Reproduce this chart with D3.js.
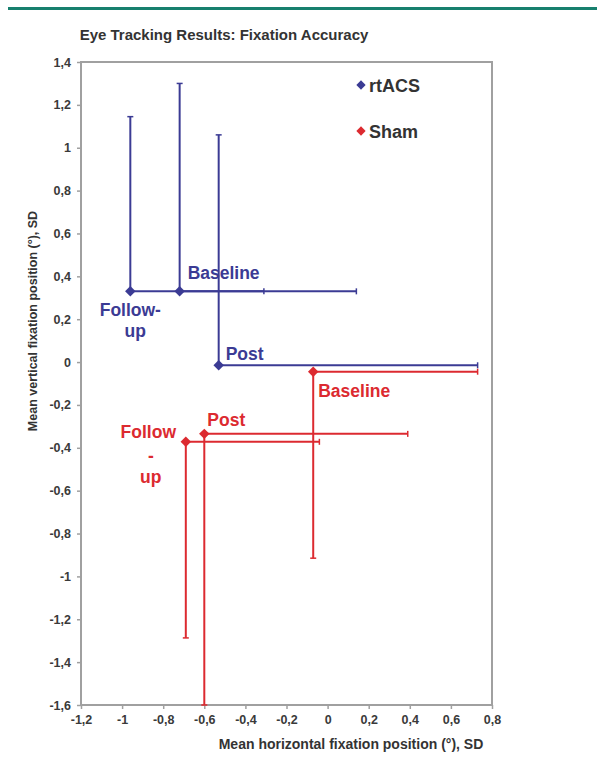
<!DOCTYPE html>
<html>
<head>
<meta charset="utf-8">
<script src="https://cdn.jsdelivr.net/npm/d3@7"></script>
<style>
  html, body { margin: 0; padding: 0; background: #ffffff; }
  svg { display: block; font-family: "Liberation Sans", Arial, sans-serif; }
</style>
</head>
<body>
<svg id="chart" width="597" height="774"></svg>
<script>
// ---- data ----
const groups = ["rtACS", "Sham"];
const sessions = ["Baseline", "Post", "Follow-up"];
// mean horizontal (x) and vertical (y) fixation positions
const rtacsX = [-0.72, -0.53, -0.96];
const rtacsY = [0.33, -0.015, 0.33];
const rtacsSdX = [0.86, 1.26, 0.65];
const rtacsSdY = [0.97, 1.075, 0.815];
const shamX = [-0.07, -0.60, -0.69];
const shamY = [-0.045, -0.335, -0.372];
const shamSdX = [0.80, 0.99, 0.65];
const shamSdY = [-0.87, -1.30, -0.915];
const xTicks = [-1.2, -1, -0.8, -0.6, -0.4, -0.2, 0, 0.2, 0.4, 0.6, 0.8];
const yTicks = [1.4, 1.2, 1, 0.8, 0.6, 0.4, 0.2, 0, -0.2, -0.4, -0.6, -0.8, -1, -1.2, -1.4, -1.6];

const blue = "#3b3b94";
const red = "#dc2a30";

const svg = d3.select("#chart");
const m = { left: 81, right: 492, top: 62, bottom: 705 };

const x = d3.scaleLinear().domain([-1.2, 0.8]).range([m.left, m.right]);
const y = d3.scaleLinear().domain([-1.6, 1.4]).range([m.bottom, m.top]);
const fmt = v => String(+v.toFixed(1)).replace(".", ",");

// top rule
svg.append("rect").attr("x", 8).attr("y", 7).attr("width", 589).attr("height", 3).attr("fill", "#17806e");

// title
svg.append("text").attr("x", 224).attr("y", 40).attr("text-anchor", "middle")
  .attr("font-size", 15).attr("font-weight", "bold").attr("fill", "#333")
  .text("Eye Tracking Results: Fixation Accuracy");

// plot frame
svg.append("rect").attr("x", m.left).attr("y", m.top)
  .attr("width", m.right - m.left).attr("height", m.bottom - m.top)
  .attr("fill", "none").attr("stroke", "#a0a0a0").attr("stroke-width", 2);

// axes
const xAxis = svg.append("g").attr("transform", `translate(0,${m.bottom})`)
  .call(d3.axisBottom(x).tickValues(xTicks).tickFormat(fmt).tickSize(4).tickPadding(6));
const yAxis = svg.append("g").attr("transform", `translate(${m.left},0)`)
  .call(d3.axisLeft(y).tickValues(yTicks).tickFormat(fmt).tickSize(4).tickPadding(6));
[xAxis, yAxis].forEach(a => {
  a.select(".domain").remove();
  a.selectAll(".tick line").attr("stroke", "#a0a0a0").attr("stroke-width", 1.5);
  a.selectAll(".tick text").attr("fill", "#3a3a3a").attr("font-size", 12.5)
    .attr("font-weight", "bold").attr("font-family", "Liberation Sans, Arial, sans-serif");
});

// axis titles
svg.append("text").attr("x", 351).attr("y", 749).attr("text-anchor", "middle")
  .attr("font-size", 14).attr("font-weight", "bold").attr("fill", "#333")
  .text("Mean horizontal fixation position (°), SD");
svg.append("text").attr("transform", "translate(37,321) rotate(-90)").attr("text-anchor", "middle")
  .attr("font-size", 12.5).attr("font-weight", "bold").attr("fill", "#333")
  .text("Mean vertical fixation position (°), SD");

// error bars + points
function drawGroup(xs, ys, sdx, sdy, color, width) {
  const g = svg.append("g");
  xs.forEach((xv, i) => {
    const yv = ys[i];
    const xe = xv + sdx[i], ye = Math.max(yv + sdy[i], -1.6);
    g.append("line").attr("x1", x(xv)).attr("x2", x(xe)).attr("y1", y(yv)).attr("y2", y(yv))
      .attr("stroke", color).attr("stroke-width", width);
    g.append("line").attr("x1", x(xe)).attr("x2", x(xe)).attr("y1", y(yv) - 3).attr("y2", y(yv) + 3)
      .attr("stroke", color).attr("stroke-width", 1.5);
    g.append("line").attr("x1", x(xv)).attr("x2", x(xv)).attr("y1", y(yv)).attr("y2", y(ye))
      .attr("stroke", color).attr("stroke-width", width);
    g.append("line").attr("x1", x(xv) - 3).attr("x2", x(xv) + 3).attr("y1", y(ye)).attr("y2", y(ye))
      .attr("stroke", color).attr("stroke-width", 1.5);
  });
  g.selectAll("path.pt").data(xs).enter().append("path")
    .attr("transform", (d, i) => `translate(${x(d)},${y(ys[i])})`)
    .attr("d", d3.symbol(d3.symbolDiamond2, 70)())
    .attr("fill", color);
}
drawGroup(rtacsX, rtacsY, rtacsSdX, rtacsSdY, blue, 2);
drawGroup(shamX, shamY, shamSdX, shamSdY, red, 2);

// point labels
function label(txt, xv, yv, dx, dy, color, anchor) {
  svg.append("text").attr("x", x(xv) + dx).attr("y", y(yv) + dy)
    .attr("text-anchor", anchor || "start").attr("font-size", 17.5)
    .attr("font-weight", "bold").attr("fill", color).text(txt);
}
label("Baseline", rtacsX[0], rtacsY[0], 8, -12, blue);
label("Post", rtacsX[1], rtacsY[1], 7, -5.5, blue);
label("Follow-", rtacsX[2], rtacsY[2], 0, 24.5, blue, "middle");
label("up", rtacsX[2], rtacsY[2], 5, 46, blue, "middle");
label("Baseline", shamX[0], shamY[0], 5, 25, red);
label("Post", shamX[1], shamY[1], 3, -7.5, red);
label("Follow", shamX[2], shamY[2], -37.5, -4, red, "middle");
label("-", shamX[2], shamY[2], -35, 20, red, "middle");
label("up", shamX[2], shamY[2], -35, 41, red, "middle");

// legend
const legColors = [blue, red];
groups.forEach((gname, i) => {
  const ly = 85 + i * 46;
  svg.append("path").attr("transform", `translate(361,${ly})`)
    .attr("d", d3.symbol(d3.symbolDiamond2, 55)()).attr("fill", legColors[i]);
  svg.append("text").attr("x", 369).attr("y", ly + 6.5).attr("font-size", 18)
    .attr("font-weight", "bold").attr("fill", "#333").text(gname);
});
</script>
</body>
</html>
